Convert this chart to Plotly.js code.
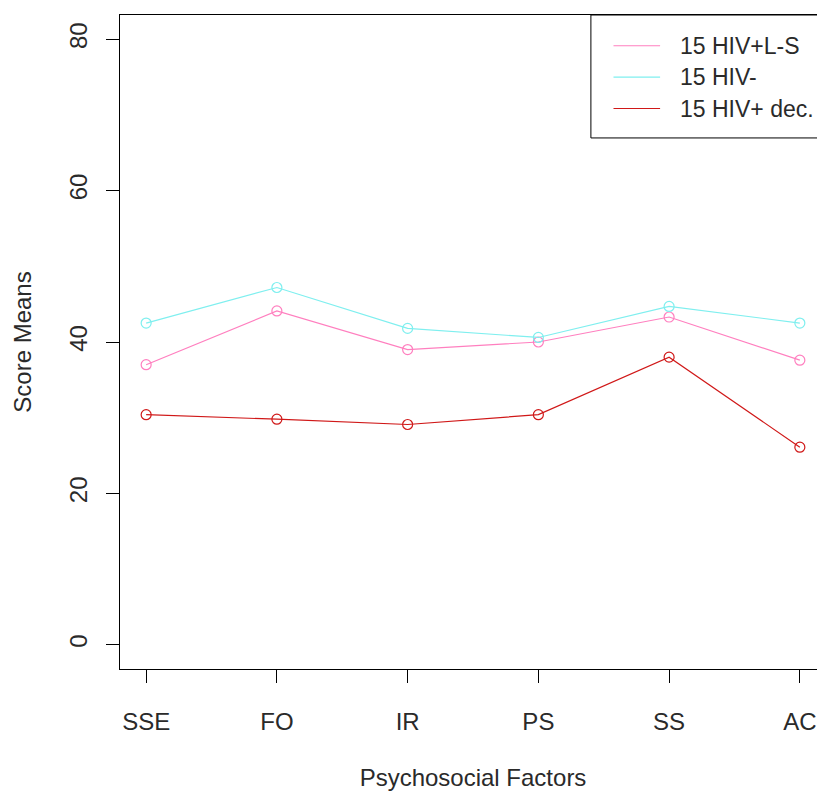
<!DOCTYPE html>
<html>
<head>
<meta charset="utf-8">
<script src="https://cdn.plot.ly/plotly-3.0.1.min.js"></script>
<style>
html, body { margin: 0; padding: 0; overflow: hidden; background: #ffffff; }
#chart { width: 830px; height: 794px; }
</style>
</head>
<body>
<div id="chart"></div>
<script>
// Data
const factors = ["SSE", "FO", "IR", "PS", "SS", "AC"];
const hivPosLS = [37.0, 44.1, 39.0, 40.0, 43.3, 37.6];
const hivNeg = [42.5, 47.2, 41.8, 40.6, 44.7, 42.5];
const hivPosDec = [30.4, 29.8, 29.1, 30.4, 38.0, 26.1];
const seriesNames = ["15 HIV+L-S", "15 HIV-", "15 HIV+ dec."];
const yTicks = [0, 20, 40, 60, 80];

const colors = ["#ff7fbf", "#7fefef", "#d01818"];
const seriesValues = [hivPosLS, hivNeg, hivPosDec];
const FONT = "Liberation Sans, Arial, sans-serif";
const TXT = "#2a2a2a";

const traces = seriesValues.map((vals, i) => ({
  type: "scatter",
  mode: "lines+markers",
  name: seriesNames[i],
  x: factors,
  y: vals,
  line: { color: colors[i], width: 1.2 },
  marker: { symbol: "circle-open", size: 10, color: colors[i], line: { width: 1.2, color: colors[i] } },
  showlegend: false,
  cliponaxis: false
}));

// Legend drawn as shapes + annotations (R-style legend box)
const shapes = [{
  type: "rect", xref: "paper", yref: "paper",
  x0: 0.667, x1: 1, y0: 0.812, y1: 1,
  line: { color: "#000000", width: 1 }, fillcolor: "rgba(255,255,255,0)"
}];
const annotations = [];
const rowsY = [0.953, 0.905, 0.857];
seriesNames.forEach((nm, i) => {
  shapes.push({
    type: "line", xref: "paper", yref: "paper",
    x0: 0.699, x1: 0.765, y0: rowsY[i], y1: rowsY[i],
    line: { color: colors[i], width: 1.2 }
  });
  annotations.push({
    xref: "paper", yref: "paper", x: 0.79, y: rowsY[i],
    xanchor: "left", yanchor: "middle", showarrow: false,
    text: nm, font: { family: FONT, size: 23, color: TXT }
  });
});

const layout = {
  width: 830,
  height: 794,
  margin: { l: 120, r: 4, t: 15, b: 125 },
  paper_bgcolor: "#ffffff",
  plot_bgcolor: "#ffffff",
  showlegend: false,
  font: { family: FONT, size: 24, color: TXT },
  xaxis: {
    type: "category",
    range: [-0.2, 5.2],
    showgrid: false, zeroline: false,
    showline: true, mirror: true, linecolor: "#000000", linewidth: 1,
    ticks: "outside", ticklen: 13, tickcolor: "#000000", tickwidth: 1,
    ticklabelstandoff: 18,
    tickfont: { family: FONT, size: 24, color: TXT },
    title: { text: "Psychosocial Factors", font: { family: FONT, size: 24, color: TXT }, standoff: 35 },
    automargin: false
  },
  yaxis: {
    range: [-3.2, 83.2],
    tickvals: yTicks,
    ticktext: yTicks.map(String),
    tickangle: -90,
    showgrid: false, zeroline: false,
    showline: true, mirror: true, linecolor: "#000000", linewidth: 1,
    ticks: "outside", ticklen: 13, tickcolor: "#000000", tickwidth: 1,
    ticklabelstandoff: 9,
    tickfont: { family: FONT, size: 24, color: TXT },
    title: { text: "Score Means", font: { family: FONT, size: 24, color: TXT }, standoff: 27 },
    automargin: false
  },
  shapes: shapes,
  annotations: annotations
};

Plotly.newPlot("chart", traces, layout, { displayModeBar: false, staticPlot: true });
</script>
</body>
</html>
